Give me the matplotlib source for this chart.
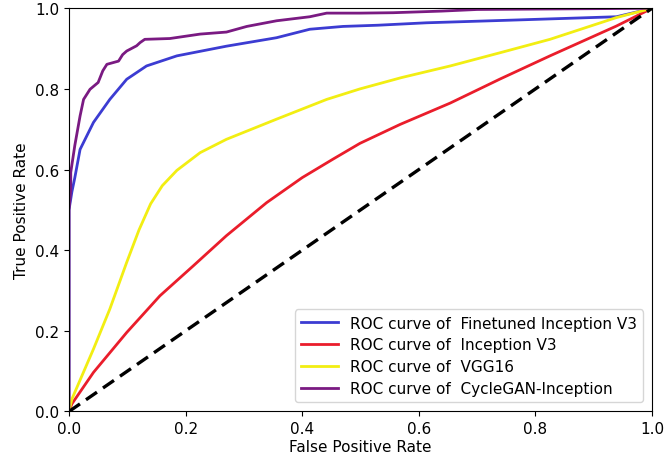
import numpy as np
import matplotlib.pyplot as plt

# ROC curve points
fpr_ft = [0.0, 0.0, 0.005, 0.010, 0.019, 0.042, 0.070, 0.099, 0.133, 0.185, 0.270, 0.356, 0.413, 0.470,
          0.530, 0.613, 0.768, 0.939, 0.986, 1.0]
tpr_ft = [0.0, 0.50, 0.545, 0.580, 0.650, 0.717, 0.774, 0.824, 0.857, 0.882, 0.906, 0.927, 0.948, 0.955,
          0.958, 0.964, 0.971, 0.979, 0.995, 1.0]

fpr_inc = [0.0, 0.005, 0.042, 0.099, 0.156, 0.213, 0.270, 0.339, 0.400, 0.453, 0.499, 0.568, 0.654, 0.740,
           0.825, 0.939, 1.0]
tpr_inc = [0.0, 0.019, 0.097, 0.196, 0.287, 0.361, 0.436, 0.518, 0.580, 0.626, 0.665, 0.712, 0.765, 0.825,
           0.882, 0.956, 1.0]

fpr_vgg = [0.0, 0.005, 0.042, 0.070, 0.099, 0.120, 0.140, 0.160, 0.185, 0.225, 0.270, 0.356, 0.442, 0.499,
           0.570, 0.654, 0.740, 0.825, 0.939, 1.0]
tpr_vgg = [0.0, 0.031, 0.155, 0.254, 0.370, 0.450, 0.515, 0.560, 0.598, 0.642, 0.675, 0.725, 0.774, 0.800,
           0.828, 0.857, 0.890, 0.923, 0.977, 1.0]

fpr_cg = [0.0, 0.0, 0.003, 0.003, 0.010, 0.019, 0.025, 0.036, 0.050, 0.058, 0.065, 0.085, 0.092, 0.099,
          0.116, 0.122, 0.130, 0.173, 0.225, 0.270, 0.305, 0.356, 0.413, 0.442, 0.499, 0.556, 0.639,
          0.700, 1.0]
tpr_cg = [0.0, 0.50, 0.55, 0.593, 0.660, 0.733, 0.774, 0.799, 0.816, 0.845, 0.861, 0.869, 0.885, 0.894,
          0.907, 0.915, 0.923, 0.925, 0.936, 0.941, 0.955, 0.969, 0.979, 0.988, 0.988, 0.989, 0.993,
          0.997, 1.0]

fig = plt.figure(figsize=(6.66, 4.64), dpi=100)
ax = fig.add_axes([0.1036, 0.111, 0.8754, 0.869])

ax.plot(fpr_ft, tpr_ft, color='#3c3cd2', lw=2, label='ROC curve of  Finetuned Inception V3')
ax.plot(fpr_inc, tpr_inc, color='#ea1d2b', lw=2, label='ROC curve of  Inception V3')
ax.plot(fpr_vgg, tpr_vgg, color='#f2ee12', lw=2, label='ROC curve of  VGG16')
ax.plot(fpr_cg, tpr_cg, color='#7a1a82', lw=2, label='ROC curve of  CycleGAN-Inception')
ax.plot([0, 1], [0, 1], color='black', lw=2.4, linestyle='--', dashes=(4, 2.2))

ax.set_xlim(0, 1)
ax.set_ylim(0, 1)
ax.set_xlabel('False Positive Rate', fontsize=11, labelpad=2)
ax.set_ylabel('True Positive Rate', fontsize=11)
ax.tick_params(labelsize=11)
ax.legend(loc='lower right', fontsize=11, handlelength=2.4, labelspacing=0.45,
          borderaxespad=0.6)

fig.savefig('out.png', dpi=100)
